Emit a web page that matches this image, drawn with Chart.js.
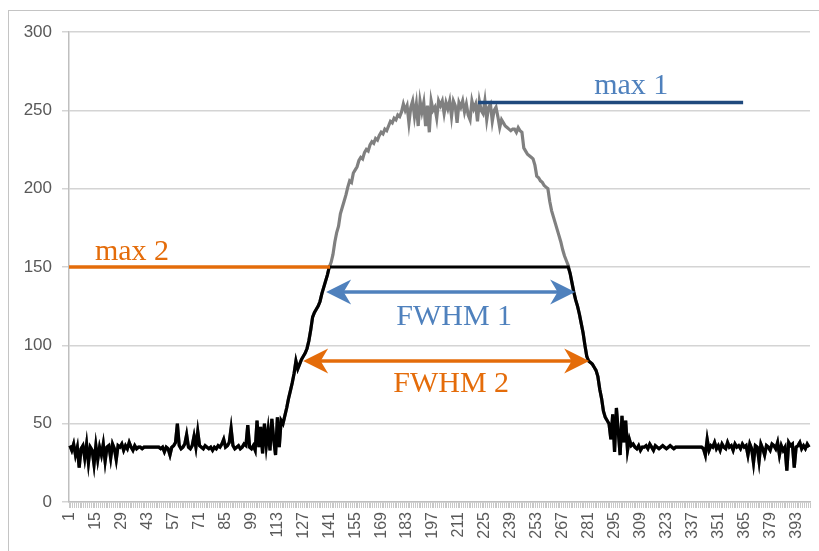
<!DOCTYPE html>
<html>
<head>
<meta charset="utf-8">
<script src="https://cdn.jsdelivr.net/npm/chart.js@4"></script>
<style>
    html, body { margin: 0; padding: 0; background: #fff; overflow: hidden; }
    #frame { position: absolute; left: 8px; top: 10px; width: 900px; height: 700px;
             border-left: 1.5px solid #c4c4c4; border-top: 1.5px solid #c4c4c4; }
    #wrap { position: absolute; left: 0; top: 0; width: 819px; height: 551px; }
</style>
</head>
<body>
<div id="frame"></div>
<div id="wrap"><canvas id="grafico"></canvas></div>
<script>
"use strict"

// señal medida, un valor por muestra (1..400)
const signal = [
    36,33,37,30,35,22,34,36,28,37,
    25,35,33,24,36,27,35,30,37,26,
    35,36,28,37,34,27,36,35,37,33,
    36,34,38,35,33,36,34,35,35,34,
    35,35,35,35,35,35,35,35,35,34,
    35,32,35,34,30,35,36,38,50,36,
    34,35,37,43,35,34,36,42,35,45,
    36,35,34,36,35,34,35,33,35,34,
    36,35,37,40,35,36,38,47,36,34,
    35,36,34,35,37,36,49,35,34,36,
    33,52,35,48,31,50,36,46,33,53,
    40,30,54,35,52,50,55,60,66,71,
    76,82,90,85,88,91,93,95,98,103,
    110,118,121,123,125,128,133,137,141,145,
    150,153,158,166,172,176,184,188,192,196,
    201,205,204,210,212,214,218,220,219,223,
    225,224,228,230,229,232,231,234,236,235,
    238,237,240,243,242,245,244,247,246,249,
    254,250,253,242,252,256,246,254,240,256,
    249,255,240,253,236,256,250,252,245,256,
    253,256,248,255,251,256,246,256,253,242,
    255,252,256,249,254,247,244,256,251,254,
    243,256,250,248,256,244,252,254,243,250,
    252,246,239,244,242,240,239,238,237,238,
    238,236,239,237,236,226,224,222,221,220,
    219,215,208,207,205,204,202,201,200,192,
    186,182,178,174,170,166,161,157,154,151,
    146,140,134,129,125,120,114,108,100,93,
    90,89,88,86,84,80,72,66,58,54,
    52,50,40,56,32,60,45,30,55,38,
    52,33,40,36,37,35,34,36,33,35,
    35,36,34,37,35,33,36,35,34,35,
    36,35,34,35,36,35,34,35,35,35,
    35,35,35,35,35,35,35,35,35,35,
    35,35,34,30,40,33,36,35,38,34,
    36,33,37,35,34,38,35,36,33,37,
    35,36,34,37,35,36,30,37,34,25,
    36,35,26,37,34,30,36,35,33,37,
    36,34,38,30,36,33,35,20,38,36,
    37,22,35,36,38,34,36,34,37,35
];

const muestras = signal.map((v, i) => i + 1);
const tickLabels = [1,15,29,43,57,71,85,99,113,127,141,155,169,183,197,211,225,239,253,267,281,295,309,323,337,351,365,379,393];
const yTicks = [0, 50, 100, 150, 200, 250, 300];

// niveles y tramos de las anotaciones (muestra inicial, muestra final)
const max1 = 255;
const max1Span = [221.3, 364.4];
const max2 = 150;
const max2Span = [0.5, 141.4];
const fwhm1 = 134;
const fwhm1Span = [139.3, 273.7];
const fwhm2 = 90;
const fwhm2Span = [126.9, 281.3];

const recortada = signal.map(v => Math.min(v, max2));

const AZUL_OSC = '#1f497d';
const AZUL = '#4f81bd';
const NARANJA = '#e46c0a';

function flecha(ctx, xa, xb, y, color) {
    const L = 25, W = 12.5;
    ctx.save();
    ctx.strokeStyle = color;
    ctx.fillStyle = color;
    ctx.lineWidth = 3.5;
    ctx.beginPath();
    ctx.moveTo(xa + L * 0.6, y);
    ctx.lineTo(xb - L * 0.6, y);
    ctx.stroke();
    [[xa, 1], [xb, -1]].forEach(([x, d]) => {
        ctx.beginPath();
        ctx.moveTo(x, y);
        ctx.lineTo(x + d * L, y - W);
        ctx.lineTo(x + d * L * 0.7, y);
        ctx.lineTo(x + d * L, y + W);
        ctx.closePath();
        ctx.fill();
    });
    ctx.restore();
}

const anotaciones = {
    id: 'anotaciones',
    afterDatasetsDraw(chart) {
        const ctx = chart.ctx;
        const x = chart.scales.x;
        const y = chart.scales.y;
        const px = n => x.getPixelForValue(n - 1);

        ctx.save();
        ctx.lineWidth = 3.5;

        // max 2
        ctx.strokeStyle = NARANJA;
        ctx.beginPath();
        ctx.moveTo(px(max2Span[0]), y.getPixelForValue(max2));
        ctx.lineTo(px(max2Span[1]), y.getPixelForValue(max2));
        ctx.stroke();

        // max 1
        ctx.strokeStyle = AZUL_OSC;
        ctx.beginPath();
        ctx.moveTo(px(max1Span[0]), y.getPixelForValue(max1));
        ctx.lineTo(px(max1Span[1]), y.getPixelForValue(max1));
        ctx.stroke();

        flecha(ctx, px(fwhm1Span[0]), px(fwhm1Span[1]), y.getPixelForValue(fwhm1), AZUL);
        flecha(ctx, px(fwhm2Span[0]), px(fwhm2Span[1]), y.getPixelForValue(fwhm2), NARANJA);

        ctx.font = '30px "Liberation Serif", "Times New Roman", serif';
        ctx.textBaseline = 'alphabetic';

        ctx.fillStyle = NARANJA;
        ctx.textAlign = 'left';
        ctx.fillText('max 2', px(14.5), y.getPixelForValue(max2) - 7);

        ctx.fillStyle = AZUL;
        ctx.textAlign = 'center';
        ctx.fillText('max 1', px(304), y.getPixelForValue(max1) - 9);
        ctx.fillText('FWHM 1', px(208.4), y.getPixelForValue(fwhm1) + 33);

        ctx.fillStyle = NARANJA;
        ctx.fillText('FWHM 2', px(206.8), y.getPixelForValue(fwhm2) + 31);
        ctx.restore();
    }
};

new Chart(document.getElementById('grafico'), {
    type: 'line',
    data: {
        labels: muestras,
        datasets: [{
            data: recortada,
            borderColor: '#000000',
            borderWidth: 3.2,
            pointRadius: 0,
            tension: 0,
            order: 0
        }, {
            data: signal,
            borderColor: '#808080',
            borderWidth: 3.2,
            pointRadius: 0,
            tension: 0,
            order: 1
        }]
    },
    options: {
        responsive: true,
        maintainAspectRatio: false,
        animation: false,
        events: [],
        layout: { padding: { top: 32, right: 9, left: 0, bottom: 0 } },
        plugins: { legend: { display: false }, tooltip: { enabled: false } },
        scales: {
            x: {
                type: 'category',
                offset: true,
                afterFit: s => { s.height = 49; s.paddingLeft = 0; s.paddingRight = 0; },
                grid: { drawOnChartArea: false, offset: true, color: '#c8c8c8', lineWidth: 1, tickLength: 6 },
                border: { color: '#bfbfbf', width: 1.5 },
                ticks: {
                    autoSkip: false,
                    minRotation: 90,
                    maxRotation: 90,
                    padding: 4,
                    color: '#595959',
                    font: { family: '"Liberation Sans", Arial, sans-serif', size: 16 },
                    callback: function (val, i) {
                        const lab = muestras[i];
                        return tickLabels.includes(lab) ? String(lab) : '';
                    }
                }
            },
            y: {
                min: 0,
                max: 300,
                afterFit: s => { s.width = 69; s.paddingTop = 0; s.paddingBottom = 0; },
                afterBuildTicks: s => { s.ticks = yTicks.map(v => ({ value: v })); },
                grid: { color: '#d4d4d4', lineWidth: 1.5, tickLength: 7 },
                border: { color: '#bfbfbf', width: 1.5 },
                ticks: {
                    padding: 10,
                    color: '#595959',
                    font: { family: '"Liberation Sans", Arial, sans-serif', size: 17 }
                }
            }
        }
    },
    plugins: [anotaciones]
});
</script>
</body>
</html>
